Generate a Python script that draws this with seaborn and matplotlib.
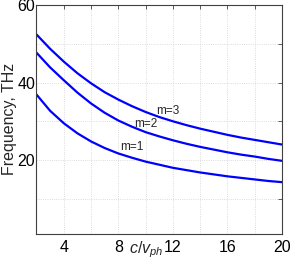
"""
Frequency vs c/v_ph for modes m=1..3.
"""

import numpy as np
import pandas as pd

import matplotlib; matplotlib.use('Agg')
import matplotlib.pyplot as plt
import seaborn as sea

# values
c_vph = [2, 3, 4, 5, 6, 7, 8, 9, 10, 11, 12, 13, 14, 15, 16, 17, 18, 19, 20]
freq_m1 = [36.9, 32.7, 29.5, 26.9, 24.8, 23.1, 21.7, 20.6, 19.6, 18.8,
           18.0, 17.4, 16.8, 16.3, 15.8, 15.4, 15.0, 14.6, 14.3]
freq_m2 = [47.7, 43.9, 40.6, 37.4, 34.6, 32.2, 30.2, 28.6, 27.2, 26.1,
           25.1, 24.2, 23.4, 22.7, 22.0, 21.4, 20.9, 20.3, 19.8]
freq_m3 = [52.4, 48.7, 45.4, 42.4, 39.8, 37.5, 35.6, 33.9, 32.4, 31.1,
           30.0, 29.0, 28.1, 27.3, 26.5, 25.8, 25.2, 24.6, 24.0]
modes = ['m=1', 'm=2', 'm=3']
label_pos = {'m=1': (8.1, 23.3), 'm=2': (9.15, 29.4), 'm=3': (10.8, 32.7)}

df = pd.concat([
    pd.DataFrame({'x': c_vph, 'f': f, 'mode': m})
    for m, f in zip(modes, [freq_m1, freq_m2, freq_m3])
])

sea.set_style('white')
plt.rcParams['font.family'] = ['Liberation Sans', 'DejaVu Sans']
plt.rcParams['mathtext.fontset'] = 'custom'
plt.rcParams['mathtext.it'] = 'Liberation Sans:italic'
plt.rcParams['mathtext.rm'] = 'Liberation Sans'

fig = plt.figure(figsize=(2.91, 2.63), dpi=100)
ax = fig.add_axes([0.1254, 0.1114, 0.969 - 0.1254, 0.981 - 0.1114])

sea.lineplot(data=df, x='x', y='f', hue='mode', palette=['#0000ff'] * 3,
             linewidth=1.6, legend=False, ax=ax)

for m in modes:
    ax.text(*label_pos[m], m, fontsize=8.5, va='center', ha='left')

ax.set_xlim(2, 20)
ax.set_ylim(1, 60)
ax.set_xticks([4, 8, 12, 16, 20])
ax.set_xticks(np.arange(4, 20, 2), minor=True)
ax.set_yticks([20, 40, 60])
ax.set_yticks([10, 30, 50], minor=True)
ax.grid(True, which='both', color='#d0d0d0', linestyle=':', linewidth=0.6)
ax.tick_params(which='both', direction='in', top=True, right=True,
               length=3, width=0.6, colors='#404040', labelcolor='k',
               labelsize=11.5)
ax.tick_params(axis='y', pad=1)
ax.tick_params(axis='x', pad=4.5)
for s in ax.spines.values():
    s.set_color('#404040')
    s.set_linewidth(0.8)

ax.set_xlabel('')
ax.set_ylabel('Frequency, THz', fontsize=11.5, labelpad=0.5)
ax.text(0.446, -0.025, r'$c/v_{ph}$', transform=ax.transAxes,
        ha='center', va='top', fontsize=11.5)

plt.savefig('out.png', dpi=100)
plt.close()
